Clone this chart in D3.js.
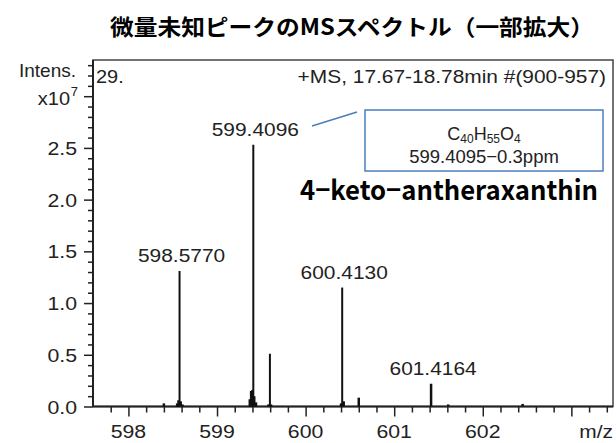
<!DOCTYPE html>
<html>
<head>
<meta charset="utf-8">
<script src="https://cdn.jsdelivr.net/npm/d3@7"></script>
<style>
	body { margin: 0; background: #fff; }
	svg { display: block; }
	text { font-family: 'Liberation Sans', Arial, sans-serif; fill: #222; }
</style>
</head>
<body>
<div id="divChart"></div>
<script>
'use strict';

const chartWidth = 616;
const chartHeight = 443;

// peaks (m/z, intensity x10^7), including small satellites at the base of the big ones
const peakMz = [598.40, 598.55, 598.565, 598.5770, 598.59, 598.61, 599.37, 599.385, 599.40, 599.4096, 599.42, 599.44, 599.58, 599.597, 599.61, 600.40, 600.4130, 600.43, 600.60, 601.4164, 601.61, 602.45];
const peakIntensity = [0.03, 0.03, 0.06, 1.31, 0.05, 0.02, 0.07, 0.15, 0.16, 2.53, 0.1, 0.04, 0.02, 0.51, 0.02, 0.03, 1.15, 0.05, 0.085, 0.22, 0.02, 0.025];

const labelMz = [598.5770, 599.4096, 600.4130, 601.4164];
const labelIntensity = [1.31, 2.53, 1.15, 0.22];
const labelText = ['598.5770', '599.4096', '600.4130', '601.4164'];

const yTicks = [0, 0.5, 1.0, 1.5, 2.0, 2.5];
const xTicks = [598, 599, 600, 601, 602];

const svg = d3.select('#divChart')
	.append('svg')
	.attr('width', chartWidth)
	.attr('height', chartHeight);

const x = d3.scaleLinear().domain([597.6, 603.47]).range([93, 613]);
const y = d3.scaleLinear().domain([0, 3.35]).range([406.5, 60]);

// stretched text helper, the original labels are a bit wider than Arial
function label(parent, px, py, text, anchor, size, stretch) {
	return parent.append('text')
		.attr('transform', `translate(${px},${py}) scale(${stretch},1)`)
		.attr('text-anchor', anchor)
		.style('font-size', size + 'px')
		.text(text);
}

// title
svg.append('text')
	.attr('x', 110)
	.attr('y', 35)
	.attr('textLength', 484)
	.attr('lengthAdjust', 'spacingAndGlyphs')
	.style('font-family', "'Noto Sans CJK JP', sans-serif")
	.style('font-weight', 'bold')
	.style('font-size', '22px')
	.style('fill', '#000')
	.text('微量未知ピークのMSスペクトル（一部拡大）');

// frame
svg.append('rect')
	.attr('x', x.range()[0])
	.attr('y', y.range()[1])
	.attr('width', x.range()[1] - x.range()[0])
	.attr('height', y.range()[0] - y.range()[1])
	.style('fill', 'none')
	.style('stroke', '#444')
	.style('stroke-width', 1.5);

// y axis
const yAxis = svg.append('g').attr('transform', `translate(${x.range()[0]},0)`);
yAxis.call(d3.axisLeft(y).tickValues(d3.range(0, 3.36, 0.1)).tickSize(5).tickFormat(''));
yAxis.call(g => g.selectAll('.tick').filter(d => Math.abs(d * 2 - Math.round(d * 2)) < 1e-6).select('line').attr('x2', -9));
yAxis.call(g => g.select('.domain').remove());
yAxis.selectAll('line').style('stroke', '#222').style('stroke-width', 1.5);
yTicks.forEach(v => label(svg, 77, y(v) + 7, v.toFixed(1), 'end', 19, 1.12));

// x axis
const xAxis = svg.append('g').attr('transform', `translate(0,${y.range()[0]})`);
xAxis.call(d3.axisBottom(x).tickValues(d3.range(597.8, 603.41, 0.2)).tickSize(6).tickFormat(''));
xAxis.call(g => g.selectAll('.tick').filter(d => Math.abs(d - Math.round(d)) < 1e-6).select('line').attr('y2', 10));
xAxis.call(g => g.select('.domain').remove());
xAxis.selectAll('line').style('stroke', '#222').style('stroke-width', 1.5);
xTicks.forEach(v => label(svg, x(v), 438, String(v), 'middle', 19, 1.12));
label(svg, 613, 438, 'm/z', 'end', 19, 1.1);

// axis lines on top of the frame
svg.append('line')
	.attr('x1', x.range()[0]).attr('x2', x.range()[0])
	.attr('y1', y.range()[1]).attr('y2', y.range()[0])
	.style('stroke', '#222').style('stroke-width', 2);
svg.append('line')
	.attr('x1', x.range()[0]).attr('x2', x.range()[1])
	.attr('y1', y.range()[0]).attr('y2', y.range()[0])
	.style('stroke', '#222').style('stroke-width', 2);

// axis title
label(svg, 76, 77, 'Intens.', 'end', 19, 1.0);
label(svg, 70, 105, 'x10', 'end', 19, 1.05);
label(svg, 78, 96, '7', 'end', 13, 1.0);

// header texts
label(svg, 96, 83, '29.', 'start', 19, 1.05);
label(svg, 606, 83, '+MS, 17.67-18.78min #(900-957)', 'end', 19, 1.1);

// sticks
const peaks = peakMz.map((mz, i) => ({mz: mz, intensity: peakIntensity[i]}));
svg.append('g')
	.selectAll('line')
	.data(peaks)
	.join('line')
	.attr('x1', d => x(d.mz))
	.attr('x2', d => x(d.mz))
	.attr('y1', y(0))
	.attr('y2', d => y(d.intensity))
	.style('stroke', '#111')
	.style('stroke-width', d => d.intensity > 0.3 ? 2 : 2.5);

// peak labels
labelMz.forEach((mz, i) => {
	label(svg, x(mz) + 2, y(labelIntensity[i]) - 9, labelText[i], 'middle', 19, 1.1);
});

// formula box and leader line
const boxColor = '#4a7ebb';
svg.append('line')
	.attr('x1', 312).attr('y1', 126)
	.attr('x2', 357).attr('y2', 112)
	.style('stroke', boxColor).style('stroke-width', 1.5);
svg.append('rect')
	.attr('x', 365).attr('y', 110)
	.attr('width', 238).attr('height', 61)
	.style('fill', '#fff')
	.style('stroke', boxColor)
	.style('stroke-width', 1.5);

const formula = svg.append('text')
	.attr('x', 484)
	.attr('y', 140)
	.attr('text-anchor', 'middle')
	.style('font-size', '18px');
[['C', 0], ['40', 1], ['H', 0], ['55', 1], ['O', 0], ['4', 1]].forEach(([t, sub]) => {
	formula.append('tspan')
		.attr('dy', sub ? 3 : -3)
		.style('font-size', sub ? '12px' : '18px')
		.text(t);
});
formula.select('tspan').attr('dy', 0);
svg.append('text')
	.attr('x', 484)
	.attr('y', 163)
	.attr('text-anchor', 'middle')
	.style('font-size', '18.5px')
	.text('599.4095\u22120.3ppm');

// compound name
svg.append('text')
	.attr('x', 300)
	.attr('y', 200)
	.attr('textLength', 298)
	.attr('lengthAdjust', 'spacingAndGlyphs')
	.style('font-family', "'Noto Sans CJK JP', sans-serif")
	.style('font-weight', 'bold')
	.style('font-size', '27px')
	.style('fill', '#000')
	.text('4\u2212keto\u2212antheraxanthin');
</script>
</body>
</html>
